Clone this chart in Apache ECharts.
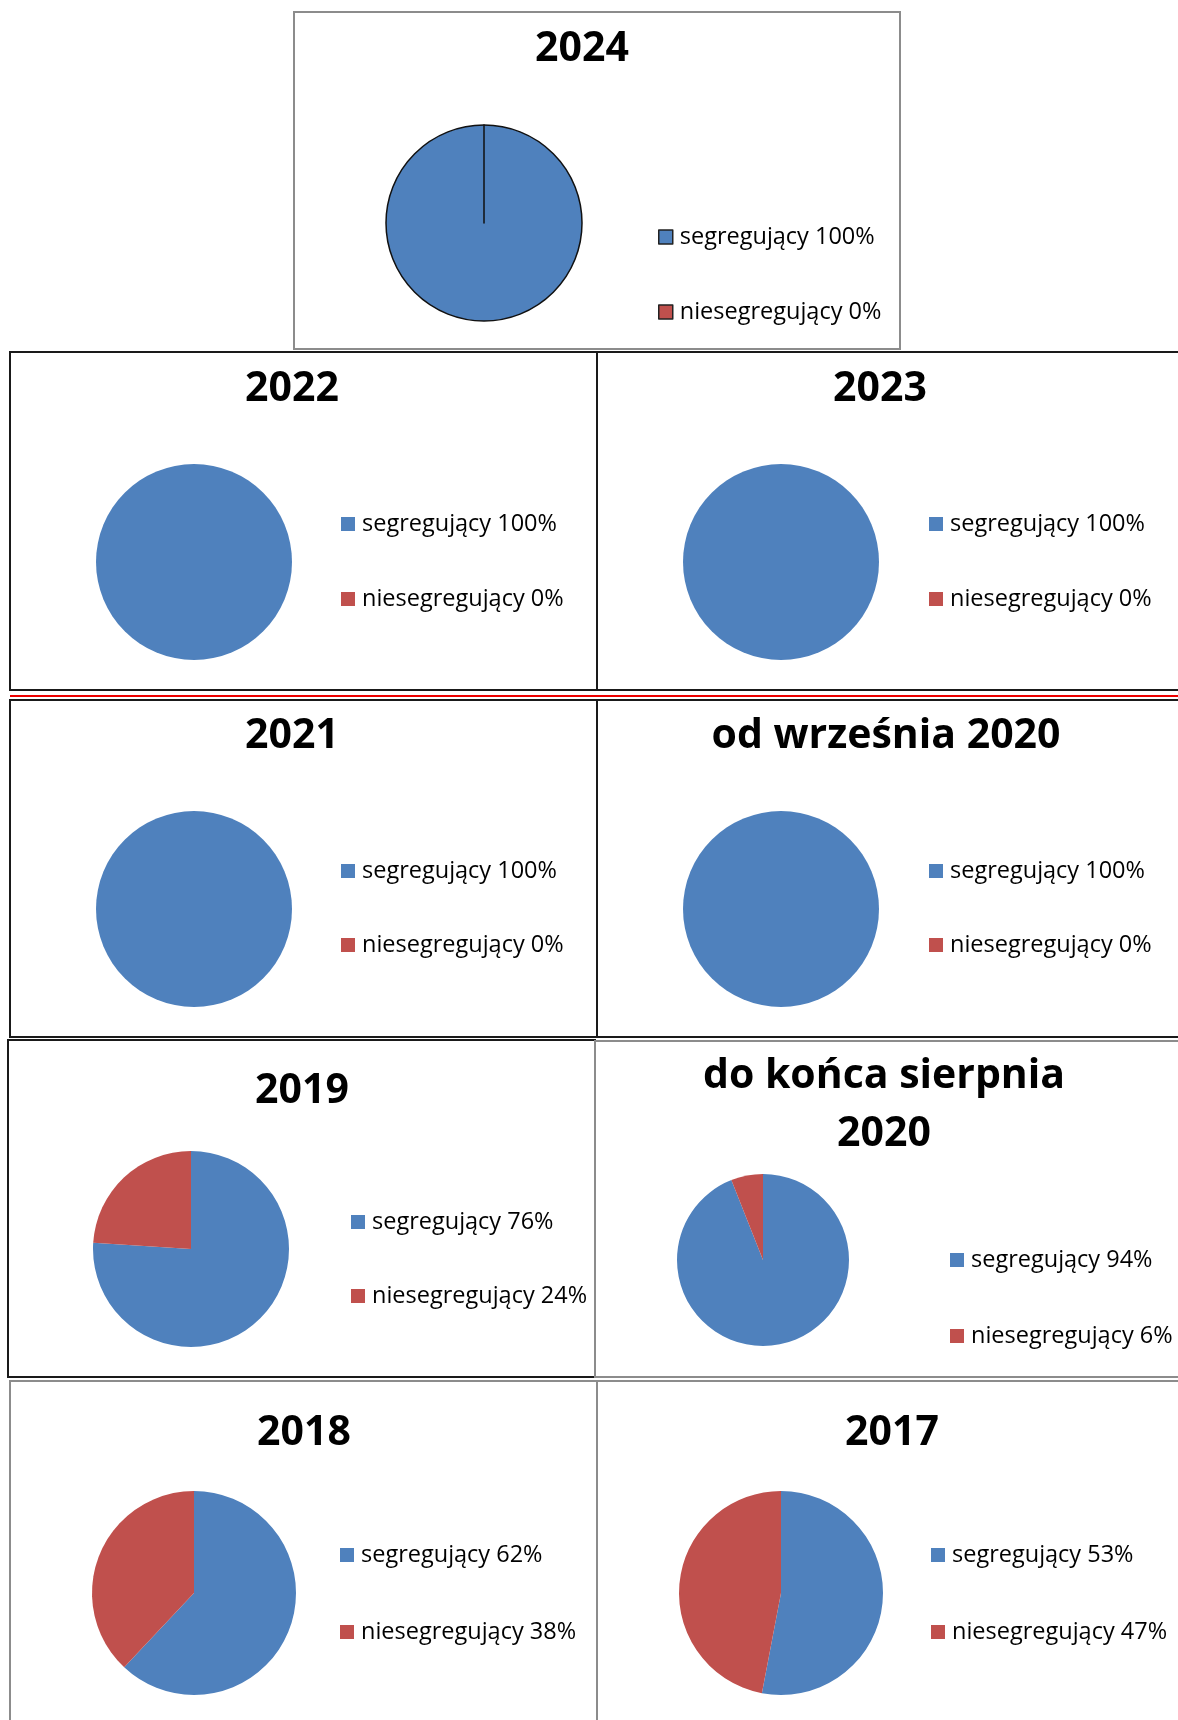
<!DOCTYPE html>
<html lang="pl">
<head>
<meta charset="utf-8">
<title>Segregacja odpadów</title>
<script src="https://cdn.jsdelivr.net/npm/echarts@6/dist/echarts.min.js"></script>
<style>
    html, body { margin: 0; padding: 0; background: #fff; }
    #chart { width: 1178px; height: 1720px; }
</style>
</head>
<body>
<div id="chart"></div>
<script>
// dane
const panelTitles = ['2024', '2022', '2023', '2021', 'od września 2020', '2019', 'do końca sierpnia\n2020', '2018', '2017'];
const categories = ['segregujący', 'niesegregujący'];
const segregujacy = [100, 100, 100, 100, 100, 76, 94, 62, 53];
const niesegregujacy = [0, 0, 0, 0, 0, 24, 6, 38, 47];

// układ paneli (piksele)
const titlePos = [[582, 49], [292, 389], [880, 389], [292, 736], [886, 736], [302, 1091], [884, 1105], [304, 1433], [892, 1433]];
const pieCenter = [[484, 223], [194, 562], [781, 562], [194, 909], [781, 909], [191, 1249], [763, 1260], [194, 1593], [781, 1593]];
const pieRadius = [98, 98, 98, 98, 98, 98, 86, 102, 102];
const legendPos = [[658, 237], [341, 524], [929, 524], [341, 871], [929, 871], [351, 1222], [950, 1260], [340, 1555], [931, 1555]];
const legendStep = [75, 75, 75, 74, 74, 74, 76, 77, 77];

const colors = ['#4F81BD', '#C0504D'];
const font = '"Open Sans", "Noto Sans", sans-serif';

// ramki wokół wykresów
function frame(x, y, w, h, color, width) {
    return {
        type: 'rect',
        silent: true,
        shape: { x: x, y: y, width: w, height: h },
        style: { fill: null, stroke: color, lineWidth: width }
    };
}

const frames = [
    frame(294, 12, 606, 337, '#8c8c8c', 2),
    frame(10, 352, 587, 338, '#1a1a1a', 2),
    frame(597, 352, 590, 338, '#1a1a1a', 2),
    frame(10, 700, 587, 337, '#1a1a1a', 2),
    frame(597, 700, 590, 337, '#1a1a1a', 2),
    frame(8, 1040, 587, 337, '#1a1a1a', 2),
    frame(595, 1041, 592, 336, '#8c8c8c', 2),
    frame(10, 1381, 587, 345, '#8c8c8c', 2),
    frame(597, 1381, 590, 345, '#8c8c8c', 2),
    {
        type: 'line',
        silent: true,
        shape: { x1: 10, y1: 696, x2: 1178, y2: 696 },
        style: { stroke: '#ee0000', lineWidth: 2 }
    }
];

const titles = [];
const legends = [];
const series = [];

panelTitles.forEach((title, i) => {
    const outlined = i === 0;

    titles.push({
        text: title,
        left: titlePos[i][0],
        top: titlePos[i][1],
        textAlign: 'center',
        textVerticalAlign: 'middle',
        padding: 0,
        textStyle: {
            fontFamily: font,
            fontWeight: 'bold',
            fontSize: 41,
            lineHeight: 58,
            color: '#000'
        }
    });

    legends.push({
        data: categories,
        orient: 'vertical',
        left: legendPos[i][0],
        top: legendPos[i][1] - 12,
        padding: 0,
        itemWidth: 14,
        itemHeight: 14,
        itemGap: legendStep[i] - 24,
        icon: 'rect',
        selectedMode: false,
        itemStyle: outlined ? { borderColor: '#222', borderWidth: 1.5 } : { borderWidth: 0 },
        formatter: name => {
            const v = name === categories[0] ? segregujacy[i] : niesegregujacy[i];
            return name + ' ' + v + '%';
        },
        textStyle: {
            fontFamily: font,
            fontSize: 23.5,
            lineHeight: 24,
            padding: [0, 0, 0, 2],
            color: '#000'
        }
    });

    series.push({
        type: 'pie',
        silent: true,
        center: pieCenter[i],
        radius: pieRadius[i],
        startAngle: 90,
        clockwise: true,
        label: { show: false },
        labelLine: { show: false },
        emphasis: { disabled: true },
        itemStyle: outlined ? { borderColor: '#111', borderWidth: 1.5 } : { borderWidth: 0 },
        data: [
            { name: categories[0], value: segregujacy[i], itemStyle: { color: colors[0] } },
            { name: categories[1], value: niesegregujacy[i], itemStyle: { color: colors[1] } }
        ]
    });
});

const chart = echarts.init(document.getElementById('chart'));
chart.setOption({
    animation: false,
    color: colors,
    title: titles,
    legend: legends,
    graphic: frames,
    series: series
});
window.addEventListener('resize', () => chart.resize());
</script>
</body>
</html>
